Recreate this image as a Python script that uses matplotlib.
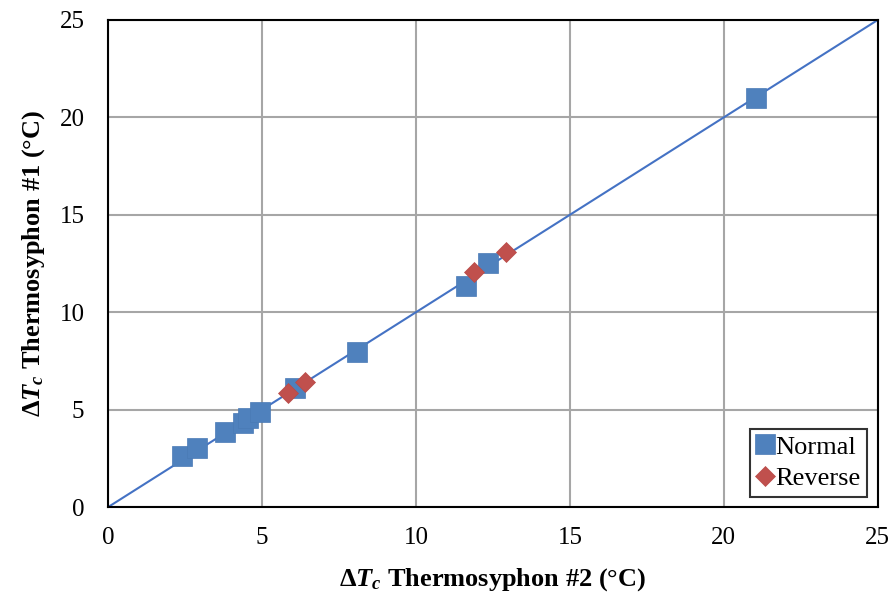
import numpy as np
import matplotlib.pyplot as plt

plt.rcParams['font.family'] = ['Liberation Serif', 'DejaVu Serif']
plt.rcParams['mathtext.fontset'] = 'custom'
plt.rcParams['mathtext.rm'] = 'Liberation Serif'
plt.rcParams['mathtext.it'] = 'Liberation Serif:italic:bold'
plt.rcParams['mathtext.bf'] = 'Liberation Serif:bold'

# Normal flow direction
normal_x = [2.40, 2.89, 3.80, 4.38, 4.55, 4.94, 6.07, 8.08, 11.62, 12.34, 21.04]
normal_y = [2.62, 3.03, 3.85, 4.31, 4.57, 4.88, 6.11, 7.96, 11.35, 12.53, 21.00]
# Reverse flow direction
reverse_x = [5.83, 6.40, 11.88, 12.92]
reverse_y = [5.88, 6.42, 12.06, 13.09]

ticks = [0, 5, 10, 15, 20, 25]

fig = plt.figure(figsize=(8.93, 6.03), dpi=100)
ax = fig.add_axes([0.121, 0.159, 0.862, 0.808])

ax.plot([0, 25], [0, 25], color='#4472C4', lw=1.5, zorder=2)
ax.plot(normal_x, normal_y, 's', color='#4F81BD', ms=14, mec='#4A7AB5',
        mew=0.5, label='Normal', zorder=3)
ax.plot(reverse_x, reverse_y, 'D', color='#C0504D', ms=10.5, mec='#B84A47',
        mew=0.5, label='Reverse', zorder=4)

ax.set_xlim(0, 25)
ax.set_ylim(0, 25)
ax.set_xticks(ticks)
ax.set_yticks(ticks)
ax.grid(True, color='#A6A6A6', lw=1.5)
ax.set_axisbelow(True)
ax.tick_params(axis='x', length=0, labelsize=18, pad=14)
ax.tick_params(axis='y', length=0, labelsize=18, pad=17)
for s in ax.spines.values():
    s.set_linewidth(1.5)
    s.set_color('black')

ax.set_xlabel(r'$\mathbf{\Delta}\mathit{T_c}$ Thermosyphon #2 (°C)',
              fontsize=19, fontweight='bold', labelpad=13)
ax.set_ylabel(r'$\mathbf{\Delta}\mathit{T_c}$ Thermosyphon #1 (°C)',
              fontsize=19, fontweight='bold', labelpad=9)

leg = ax.legend(loc='lower right', fontsize=19, frameon=True, fancybox=False,
                edgecolor='black', handlelength=0.6, handletextpad=0.1,
                borderpad=0.25, labelspacing=0.3, borderaxespad=0.4)
leg.get_frame().set_linewidth(1.5)

fig.savefig('out.png', dpi=100)
